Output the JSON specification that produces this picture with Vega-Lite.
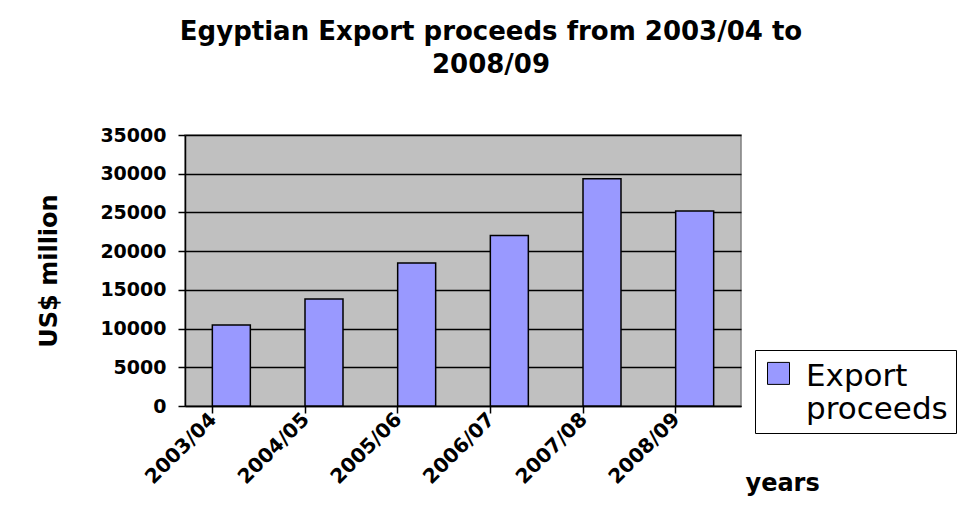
{
  "$schema": "https://vega.github.io/schema/vega-lite/v6.json",
  "autosize": {"type": "none"},
  "width": 556,
  "height": 271,
  "padding": {"left": 185, "top": 135, "right": 236, "bottom": 105},
  "background": "white",
  "title": {
    "text": ["Egyptian Export proceeds from 2003/04 to", "2008/09"],
    "font": "DejaVu Sans",
    "fontWeight": "bold",
    "fontSize": 26,
    "lineHeight": 33,
    "color": "black",
    "anchor": "middle",
    "dx": 28,
    "offset": 48
  },
  "data": {
    "values": [
      {"year": "2003/04", "value": 10453, "series": "Export proceeds"},
      {"year": "2004/05", "value": 13833, "series": "Export proceeds"},
      {"year": "2005/06", "value": 18455, "series": "Export proceeds"},
      {"year": "2006/07", "value": 22018, "series": "Export proceeds"},
      {"year": "2007/08", "value": 29356, "series": "Export proceeds"},
      {"year": "2008/09", "value": 25169, "series": "Export proceeds"}
    ]
  },
  "mark": {"type": "bar", "stroke": "black", "strokeWidth": 1.5},
  "encoding": {
    "x": {
      "field": "year",
      "type": "nominal",
      "sort": null,
      "scale": {"paddingInner": 0.59, "paddingOuter": 0.295},
      "axis": {
        "title": "years",
        "titleFont": "DejaVu Sans",
        "titleFontWeight": "bold",
        "titleFontSize": 24,
        "titleColor": "black",
        "titleAlign": "left",
        "titleAnchor": "start",
        "titleBaseline": "alphabetic",
        "titleX": 560,
        "titleY": 84,
        "bandPosition": 0,
        "labelAngle": -45,
        "labelAlign": "right",
        "labelBaseline": "middle",
        "labelOffset": -18,
        "labelPadding": 3,
        "labelFont": "DejaVu Sans",
        "labelFontWeight": "bold",
        "labelFontSize": 20,
        "labelColor": "black",
        "tickSize": 7,
        "tickColor": "black",
        "tickWidth": 1.5,
        "domainColor": "black",
        "domainWidth": 1.5,
        "grid": false
      }
    },
    "y": {
      "field": "value",
      "type": "quantitative",
      "scale": {"domain": [0, 35000], "nice": false},
      "axis": {
        "title": "US$ million",
        "titleFont": "DejaVu Sans",
        "titleFontWeight": "bold",
        "titleFontSize": 24,
        "titleColor": "black",
        "titlePadding": 38,
        "values": [0, 5000, 10000, 15000, 20000, 25000, 30000, 35000],
        "format": "d",
        "labelFont": "DejaVu Sans",
        "labelFontWeight": "bold",
        "labelFontSize": 19,
        "labelColor": "black",
        "labelPadding": 12,
        "tickSize": 7,
        "tickColor": "black",
        "tickWidth": 1.5,
        "domainColor": "black",
        "domainWidth": 1.5,
        "grid": true,
        "gridColor": "black",
        "gridWidth": 1.5,
        "gridOpacity": 1
      }
    },
    "color": {
      "field": "series",
      "type": "nominal",
      "scale": {"range": ["#9999ff"]},
      "legend": {
        "title": " ",
        "titleFontSize": 2,
        "titlePadding": 10,
        "orient": "none",
        "legendX": 570,
        "legendY": 215,
        "symbolType": "M-1,-2.1H1V-0.1H-1Z",
        "symbolSize": 484,
        "symbolStrokeColor": "black",
        "symbolStrokeWidth": 1,
        "symbolOpacity": 1,
        "labelExpr": "['Export', 'proceeds']",
        "labelFont": "DejaVu Sans",
        "labelFontSize": 31,
        "labelColor": "black",
        "labelLimit": 400,
        "labelOffset": 12,
        "labelBaseline": "alphabetic",
        "strokeColor": "black",
        "fillColor": "white",
        "padding": 8
      }
    }
  },
  "config": {
    "view": {"fill": "#c0c0c0", "stroke": "#808080", "strokeWidth": 1.5},
    "style": {"guide-label": {"lineHeight": 33}}
  }
}
